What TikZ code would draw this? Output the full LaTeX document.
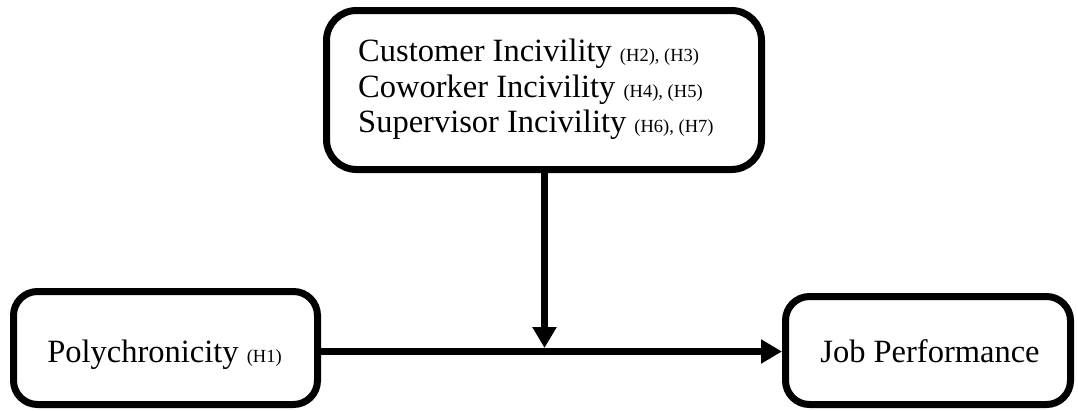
\documentclass[tikz,border=0pt]{standalone}
\usepackage{fontspec}
\setmainfont{Liberation Serif}
\usetikzlibrary{arrows.meta}

\tikzset{
  box/.style={draw=black, line width=7pt, fill=white, rounded corners=#1, inner sep=0pt},
  box/.default=24pt,
  txt/.style={inner sep=0pt, font=\fontsize{32.5}{36}\selectfont},
  link/.style={line width=7pt, -{Triangle[length=21pt,width=23pt]}}
}
\newcommand{\hyp}[1]{{\fontsize{18.5}{20}\selectfont #1}}

\begin{document}
\begin{tikzpicture}[x=1pt,y=-1pt]
  \useasboundingbox (0,0) rectangle (1078,410);

  % boxes
  \node[box=30pt, minimum width=435pt, minimum height=159pt] (inc) at (544,90) {};
  \node[box, minimum width=304pt, minimum height=113pt] (poly) at (165.5,348) {};
  \node[box, minimum width=285pt, minimum height=108pt] (job) at (928,350.5) {};

  % texts
  \node[txt, anchor=base west] (t1) at (358,61) {Customer Incivility \hyp{(H2), (H3)}};
  \node[txt, anchor=base west] (t2) at (358,97) {Coworker Incivility \hyp{(H4), (H5)}};
  \node[txt, anchor=base west] (t3) at (358,132) {Supervisor Incivility \hyp{(H6), (H7)}};
  \node[txt, anchor=base] (tp) at (164.5,362) {Polychronicity \hyp{(H1)}};
  \node[txt, anchor=base] (tj) at (930,362) {Job Performance};

  % connectors
  \coordinate (mid) at (544.5,351.5);
  \coordinate (midtop) at (544.5,348);
  \draw[link] (mid -| poly.east) -- (mid -| job.west);
  \draw[link] (inc.south -| midtop) -- (midtop);
\end{tikzpicture}
\end{document}
